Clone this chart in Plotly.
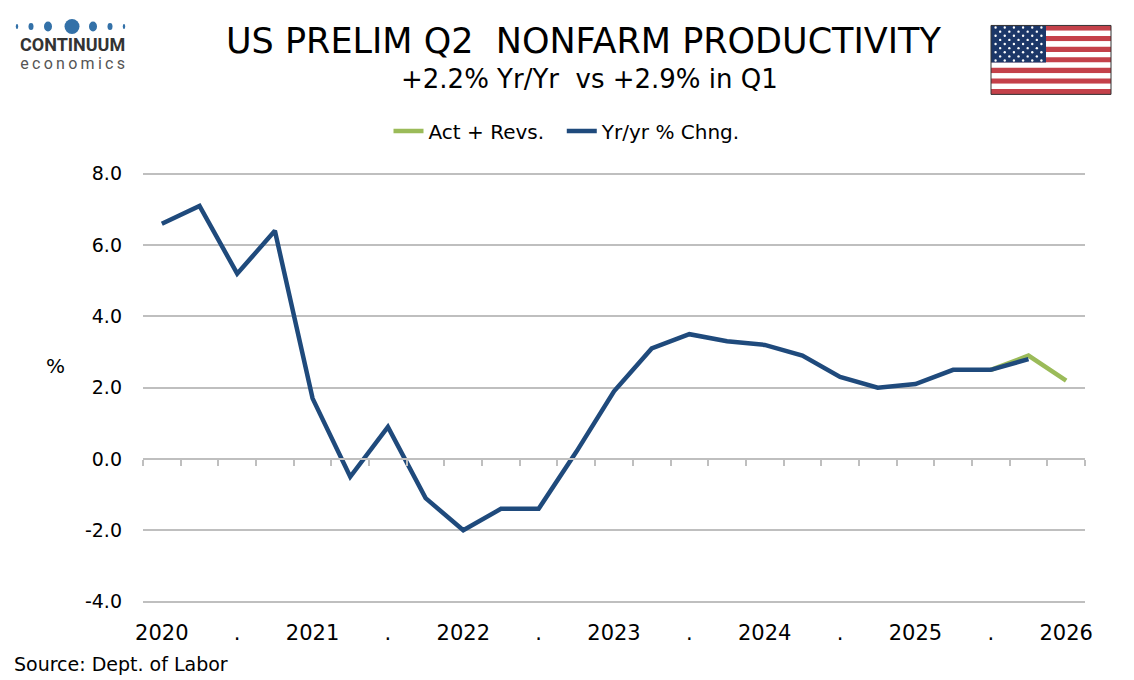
import plotly.graph_objects as go

# ----------------
# DATA
# ----------------
tick_labels = ["2020", ".", "2021", ".", "2022", ".", "2023", ".", "2024", ".", "2025", ".", "2026"]
y_ticks = [-4, -2, 0, 2, 4, 6, 8]

# Yr/yr % change, one value per quarter (25 quarters)
yoy_chng = [6.6, 7.1, 5.2, 6.4, 1.7, -0.5, 0.9, -1.1, -2.0, -1.4, -1.4, 0.2,
            1.9, 3.1, 3.5, 3.3, 3.2, 2.9, 2.3, 2.0, 2.1, 2.5, 2.5, 2.8, None]
# actual + revisions, only the latest quarters
act_revs = [None] * 22 + [2.5, 2.9, 2.2]

quarter_idx = list(range(len(yoy_chng)))

# ----------------
# LAYOUT HELPERS (pixel -> paper)
# ----------------
W, H = 1134, 680
L, R, T, B = 143, 49, 169, 78
PW = W - L - R
PH = H - T - B


def px(x):
    return (x - L) / PW


def py(y):
    return (H - B - y) / PH


FONT = "DejaVu Sans, Verdana, sans-serif"
NAVY = "#1f4a7c"
GREEN = "#9bbb59"
GRID = "#bfbfbf"

fig = go.Figure()

fig.add_trace(go.Scatter(
    x=quarter_idx, y=act_revs, name="Act + Revs.\u00a0\u00a0",
    mode="lines", line=dict(color=GREEN, width=4.5),
))
fig.add_trace(go.Scatter(
    x=quarter_idx, y=yoy_chng, name="Yr/yr % Chng.",
    mode="lines", line=dict(color=NAVY, width=4.5),
))
# empty trace so the zero-line tick axis is drawn
fig.add_trace(go.Scatter(x=[], y=[], xaxis="x2", showlegend=False, hoverinfo="skip"))

n = len(quarter_idx)
pad = 0.07  # keeps the 8.0 and -4.0 grid lines from being clipped at the edges
fig.update_layout(
    width=W, height=H,
    margin=dict(l=L, r=R, t=T - 2, b=B - 2),
    paper_bgcolor="white", plot_bgcolor="white",
    font=dict(family=FONT, color="black"),
    showlegend=True,
    legend=dict(orientation="h", xref="container", yref="container",
                x=0.5, xanchor="center", y=1 - 131 / H, yanchor="middle",
                font=dict(size=20), itemwidth=30, traceorder="normal"),
    xaxis=dict(range=[-0.5, n - 0.5], tickvals=list(range(0, n, 2)), ticktext=tick_labels,
               showgrid=False, zeroline=False, showline=False, ticks="",
               tickfont=dict(size=21), ticklabelstandoff=14),
    xaxis2=dict(overlaying="x", anchor="free", position=(4 + pad) / (12 + 2 * pad), matches="x",
                tickvals=[i - 0.5 for i in range(n + 1)], showticklabels=False,
                ticks="outside", ticklen=6, tickwidth=2, tickcolor=GRID,
                showline=True, linecolor=GRID, linewidth=2,
                showgrid=False, zeroline=False),
    yaxis=dict(range=[-4 - pad, 8 + pad], tickvals=y_ticks, ticktext=[f"{v:.1f}" for v in y_ticks],
               showgrid=True, gridcolor=GRID, gridwidth=2, zeroline=False, showline=False,
               ticks="", tickfont=dict(size=19), ticklabelstandoff=20),
)

ann = []
ann.append(dict(text="US PRELIM Q2\u00a0\u00a0NONFARM PRODUCTIVITY", x=px(583), y=py(39),
                font=dict(size=35)))
ann.append(dict(text="+2.2% Yr/Yr\u00a0\u00a0vs +2.9% in Q1", x=px(589), y=py(77),
                font=dict(size=26)))
ann.append(dict(text="%", x=px(55), y=py(364), font=dict(size=20)))
ann.append(dict(text="Source: Dept. of Labor", x=px(12), y=py(662), xanchor="left",
                font=dict(size=19)))
ann.append(dict(text="<span style='font-size:18px'><b>CONTINUUM</b></span><br>"
                     "<span style='font-size:16px;color:#555555'>" + "\u2009".join("economics") + "</span>",
                x=px(72), y=py(51),
                font=dict(size=14, family="Roboto, sans-serif", color="#333333")))
for a in ann:
    a.setdefault("xanchor", "center")
    a.update(xref="paper", yref="paper", yanchor="middle", showarrow=False)
fig.update_layout(annotations=ann)

shapes = []
# logo dots
for cx, rx, ry in [(17, 1.2, 2.5), (31, 2.5, 3.5), (48, 4.0, 5.0), (72, 7.5, 7.5),
                   (93, 4.0, 5.0), (110, 2.5, 3.5), (124, 1.2, 2.5)]:
    shapes.append(dict(type="circle", xref="paper", yref="paper",
                       x0=px(cx - rx), x1=px(cx + rx), y0=py(24 + ry), y1=py(24 - ry),
                       fillcolor="#3371a8", line=dict(width=0)))

# flag
fx0, fx1, fy0, fy1 = 991, 1111, 23, 92
sh = (fy1 - fy0) / 13
for i in range(13):
    shapes.append(dict(type="rect", xref="paper", yref="paper",
                       x0=px(fx0), x1=px(fx1), y0=py(fy0 + (i + 1) * sh), y1=py(fy0 + i * sh),
                       fillcolor="#c4414a" if i % 2 == 0 else "white", line=dict(width=0)))
cx1, cy1 = 1046, fy0 + 7 * sh
shapes.append(dict(type="rect", xref="paper", yref="paper",
                   x0=px(fx0), x1=px(cx1), y0=py(cy1), y1=py(fy0),
                   fillcolor="#1c3768", line=dict(width=0)))
for r in range(9):
    cols = 6 if r % 2 == 0 else 5
    off = 0 if r % 2 == 0 else 0.5
    for c in range(cols):
        sx = fx0 + (cx1 - fx0) * (c + off + 0.5) / 6
        sy = fy0 + (cy1 - fy0) * (r + 0.5) / 9
        shapes.append(dict(type="circle", xref="paper", yref="paper",
                           x0=px(sx - 1.2), x1=px(sx + 1.2), y0=py(sy + 1.2), y1=py(sy - 1.2),
                           fillcolor="white", line=dict(width=0)))
shapes.append(dict(type="rect", xref="paper", yref="paper",
                   x0=px(fx0), x1=px(fx1), y0=py(fy1), y1=py(fy0),
                   line=dict(color="#333333", width=1)))
fig.update_layout(shapes=shapes)

fig.write_html("out.html", config={"displayModeBar": False},
               post_script="document.body.style.margin='0px';")
